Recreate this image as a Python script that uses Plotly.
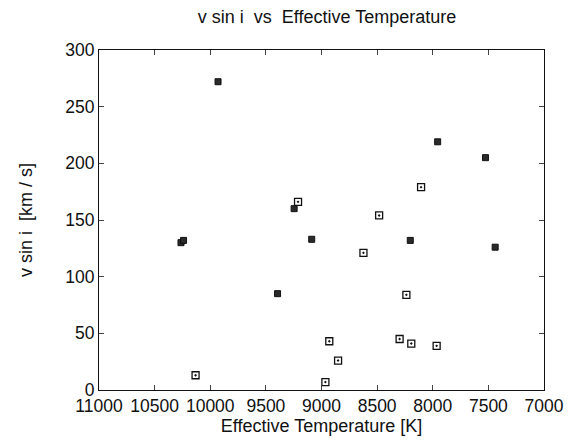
import plotly.graph_objects as go

# open squares
open_teff = [9211, 10132, 8105, 8482, 8623, 8237, 8930, 8851, 8965, 8298, 8193, 7965]
open_vsini = [166, 13, 179, 154, 121, 84, 43, 26, 7, 45, 41, 39]

# filled squares
filled_teff = [9930, 9246, 10263, 10240, 9395, 7956, 7526, 8202, 7439, 9088]
filled_vsini = [272, 160, 130, 132, 85, 219, 205, 132, 126, 133]

x_ticks = [11000, 10500, 10000, 9500, 9000, 8500, 8000, 7500, 7000]
x_labels = ["11000", "10500", "10000", "9500", "9000", "8500", "8000", "7500", "7000"]
y_ticks = [0, 50, 100, 150, 200, 250, 300]

font = "Liberation Sans, Arial, sans-serif"
nb = "\u00a0"

fig = go.Figure()
fig.add_trace(go.Scatter(
    x=open_teff, y=open_vsini, mode="markers",
    marker=dict(symbol="square-open-dot", size=7, color="#111",
                line=dict(width=1.3, color="#111")),
))
fig.add_trace(go.Scatter(
    x=filled_teff, y=filled_vsini, mode="markers",
    marker=dict(symbol="square", size=6, color="#2a2a2a",
                line=dict(width=1, color="#111")),
))

# the page body adds an 8px offset, so the figure is 8px smaller
fig.update_layout(
    width=568, height=437,
    margin=dict(l=91, r=21, t=42, b=52),
    paper_bgcolor="white", plot_bgcolor="white",
    showlegend=False,
    font=dict(family=font, color="#111"),
    title=dict(text=f"v sin i {nb}vs {nb}Effective Temperature", x=319 / 568, xanchor="center",
               y=1 - 9 / 437, yanchor="middle", font=dict(size=18, family=font)),
)
fig.update_xaxes(
    range=[11000, 7000], tickvals=x_ticks, ticktext=x_labels, ticks="inside", ticklen=5,
    showline=True, linecolor="#111", linewidth=1, mirror="ticks",
    showgrid=False, zeroline=False, tickfont=dict(size=17.5),
    title=dict(text="Effective Temperature [K]", font=dict(size=18), standoff=4),
)
fig.update_yaxes(
    range=[0, 300], tickvals=y_ticks, ticks="inside", ticklen=5,
    showline=True, linecolor="#111", linewidth=1, mirror="ticks",
    showgrid=False, zeroline=False, tickfont=dict(size=17.5),
    title=dict(text=f"v sin i {nb}[km / s]", font=dict(size=18), standoff=27),
)

fig.write_html("out.html")
